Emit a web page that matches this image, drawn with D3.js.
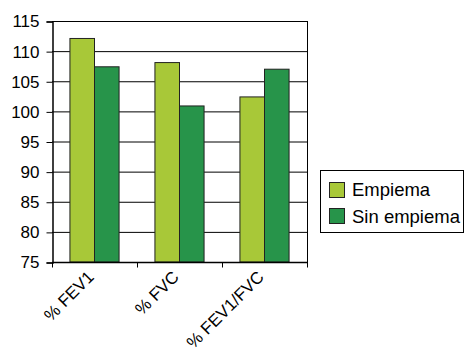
<!DOCTYPE html>
<html><head><meta charset="utf-8">
<script src="https://cdn.jsdelivr.net/npm/d3@7"></script>
<style>body{margin:0;background:#fff}svg{display:block}text{font-family:"Liberation Sans",Arial,sans-serif;fill:#000}</style>
</head><body><svg id="c" width="464" height="352"></svg>
<script>
const categories = ["% FEV1", "% FVC", "% FEV1/FVC"];
const seriesNames = ["Empiema", "Sin empiema"];
const empiema = [112.1, 108.1, 102.4];
const sinEmpiema = [107.4, 100.9, 107.0];
const yTicks = [75, 80, 85, 90, 95, 100, 105, 110, 115];
const colors = ["#a8c838", "#27944a"];

const svg = d3.select("#c");
const L = 52, R = 307, T = 21, B = 262;
const y = d3.scaleLinear().domain([75, 115]).range([B, T]);
const x0 = d3.scaleBand().domain(categories).range([L, R]).paddingInner(0).paddingOuter(0);
const x1 = d3.scaleBand().domain(seriesNames).range([0, x0.bandwidth()]).paddingInner(0).paddingOuter(0.73);
const data = [empiema, sinEmpiema];

// gridlines
svg.append("g").selectAll("line").data(yTicks).join("line")
  .attr("x1", L).attr("x2", R).attr("y1", d => y(d) + 0.5).attr("y2", d => y(d) + 0.5)
  .attr("stroke", "#000").attr("stroke-width", 1);
// right border
svg.append("line").attr("x1", R + 0.5).attr("x2", R + 0.5).attr("y1", T).attr("y2", B).attr("stroke", "#000");

// bars
categories.forEach((c, i) => {
  seriesNames.forEach((s, j) => {
    svg.append("rect")
      .attr("x", x0(c) + x1(s)).attr("y", y(data[j][i]))
      .attr("width", x1.bandwidth()).attr("height", B - y(data[j][i]))
      .attr("fill", colors[j]).attr("stroke", "#222").attr("stroke-width", 1);
  });
});

// y axis
const yAxis = d3.axisLeft(y).tickValues(yTicks).tickSize(6).tickPadding(7);
const gy = svg.append("g").attr("transform", `translate(${L + 0.5},0.5)`).call(yAxis);
gy.select(".domain").attr("stroke", "#000").attr("stroke-width", 1.5);
gy.selectAll(".tick line").attr("stroke", "#000");
gy.selectAll("text").style("font-size", "17px").attr("fill", "#000");

// x axis
const gx = svg.append("g").attr("transform", `translate(0,${B + 0.5})`);
gx.append("line").attr("x1", L).attr("x2", R + 1).attr("stroke", "#000").attr("stroke-width", 1.5);
const bounds = categories.map(c => x0(c)).concat([R]);
gx.selectAll("line.t").data(bounds).join("line").attr("class", "t")
  .attr("x1", d => d + 0.5).attr("x2", d => d + 0.5).attr("y1", 0).attr("y2", 5).attr("stroke", "#000");
gx.selectAll("text").data(categories).join("text")
  .attr("transform", d => `translate(${x0(d) + x0.bandwidth() / 2 - 8},${7}) rotate(-45)`)
  .attr("text-anchor", "end").attr("dy", "0.71em")
  .style("font-size", "17px").text(d => d);

// legend
const lg = svg.append("g");
lg.append("rect").attr("x", 320.5).attr("y", 170.5).attr("width", 143).attr("height", 62)
  .attr("fill", "#fff").attr("stroke", "#000").attr("stroke-width", 1);
seriesNames.forEach((s, j) => {
  lg.append("rect").attr("x", 329.5).attr("y", 182.5 + j * 26).attr("width", 15).attr("height", 15)
    .attr("fill", colors[j]).attr("stroke", "#222");
  lg.append("text").attr("x", 352).attr("y", 196 + j * 26.5).style("font-size", "18.5px").text(s);
});
</script></body></html>
